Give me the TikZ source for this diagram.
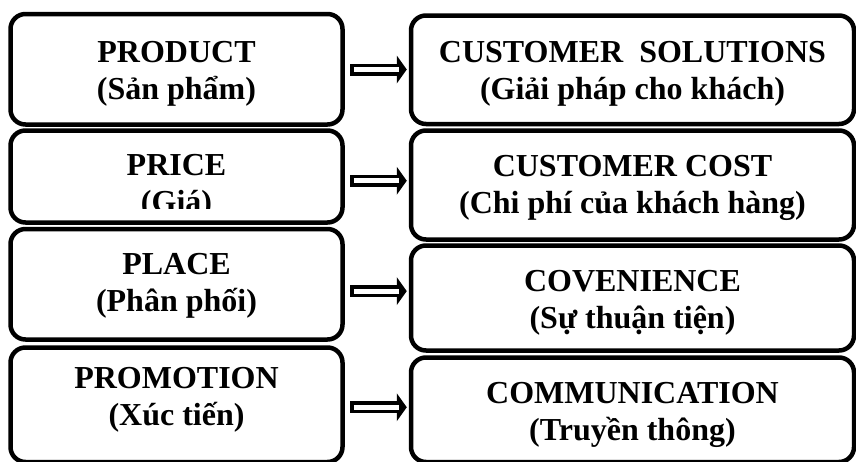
\documentclass[tikz,border=0pt]{standalone}
\usepackage{fontspec}
\setmainfont{Liberation Serif}
\usetikzlibrary{arrows.meta,calc}
\tikzset{
    box/.style={draw, line width=4.5pt, rounded corners=15pt, fill=white, inner sep=0pt},
    leftbox/.style={box, minimum width=332pt},
    rightbox/.style={box, minimum width=443pt},
    boxtext/.style={align=center, inner sep=0pt, font=\bfseries\fontsize{32}{37}\selectfont},
    dblarrow/.style={line width=12pt, -{Triangle[length=10pt,width=28pt,line width=0pt]},
                     shorten <=5.5pt, shorten >=2pt},
    dblcore/.style={draw=white, line width=5pt},
}
\begin{document}
\begin{tikzpicture}[x=1pt, y=-1pt]
    \useasboundingbox (0,0) rectangle (856,461);
    \clip (0,0) rectangle (856,461);

    % 4P
    \node[leftbox, minimum height=110.5pt] (product) at (176.5,69.25) {};
    \node[boxtext] (producttext) at ($(product)+(0,5)$) {PRODUCT\\(Sản phẩm)};
    \node[leftbox, minimum height=92pt] (price) at (176.5,176.5) {};
    \begin{scope}
        \clip (price.north west) rectangle ($(price.east)+(0,31.5)$);
        \node[boxtext] (pricetext) at ($(price)+(0,10.5)$) {PRICE\\(Giá)};
    \end{scope}
    \node[leftbox, minimum height=110.5pt] (place) at (176.5,284.25) {};
    \node[boxtext] (placetext) at ($(place)+(0,1.5)$) {PLACE\\(Phân phối)};
    \node[leftbox, minimum height=114.5pt] (promotion) at (176.5,404.75) {};
    \node[boxtext] (promotiontext) at ($(promotion)+(0,-5)$) {PROMOTION\\(Xúc tiến)};

    % 4C
    \node[rightbox, minimum height=108.5pt] (solutions) at (632.5,69.75) {};
    \node[boxtext] (solutionstext) at ($(solutions)+(0,4)$) {CUSTOMER\ \ SOLUTIONS\\(Giải pháp cho khách)};
    \node[rightbox, minimum height=109pt] (cost) at (632.5,185) {};
    \node[boxtext] (costtext) at ($(cost)+(0,3)$) {CUSTOMER COST\\(Chi phí của khách hàng)};
    \node[rightbox, minimum height=105pt] (convenience) at (632.5,298) {};
    \node[boxtext] (conveniencetext) at ($(convenience)+(0,5)$) {COVENIENCE\\(Sự thuận tiện)};
    \node[rightbox, minimum height=104.5pt] (communication) at (632.5,409.75) {};
    \node[boxtext] (communicationtext) at ($(communication)+(0,5)$) {COMMUNICATION\\(Truyền thông)};

    % Arrows
    \foreach \a/\b [count=\i] in {product/solutions, price/cost, place/convenience, promotion/communication} {
        \coordinate (m\i) at ($(\a.east)!.5!(\b.west)$);
        \draw[dblarrow] (\a.east |- m\i) -- (\b.west |- m\i);
        \draw[dblcore] ($(\a.east |- m\i)+(9,0)$) -- ($(\b.west |- m\i)+(-10,0)$);
    }
\end{tikzpicture}
\end{document}
